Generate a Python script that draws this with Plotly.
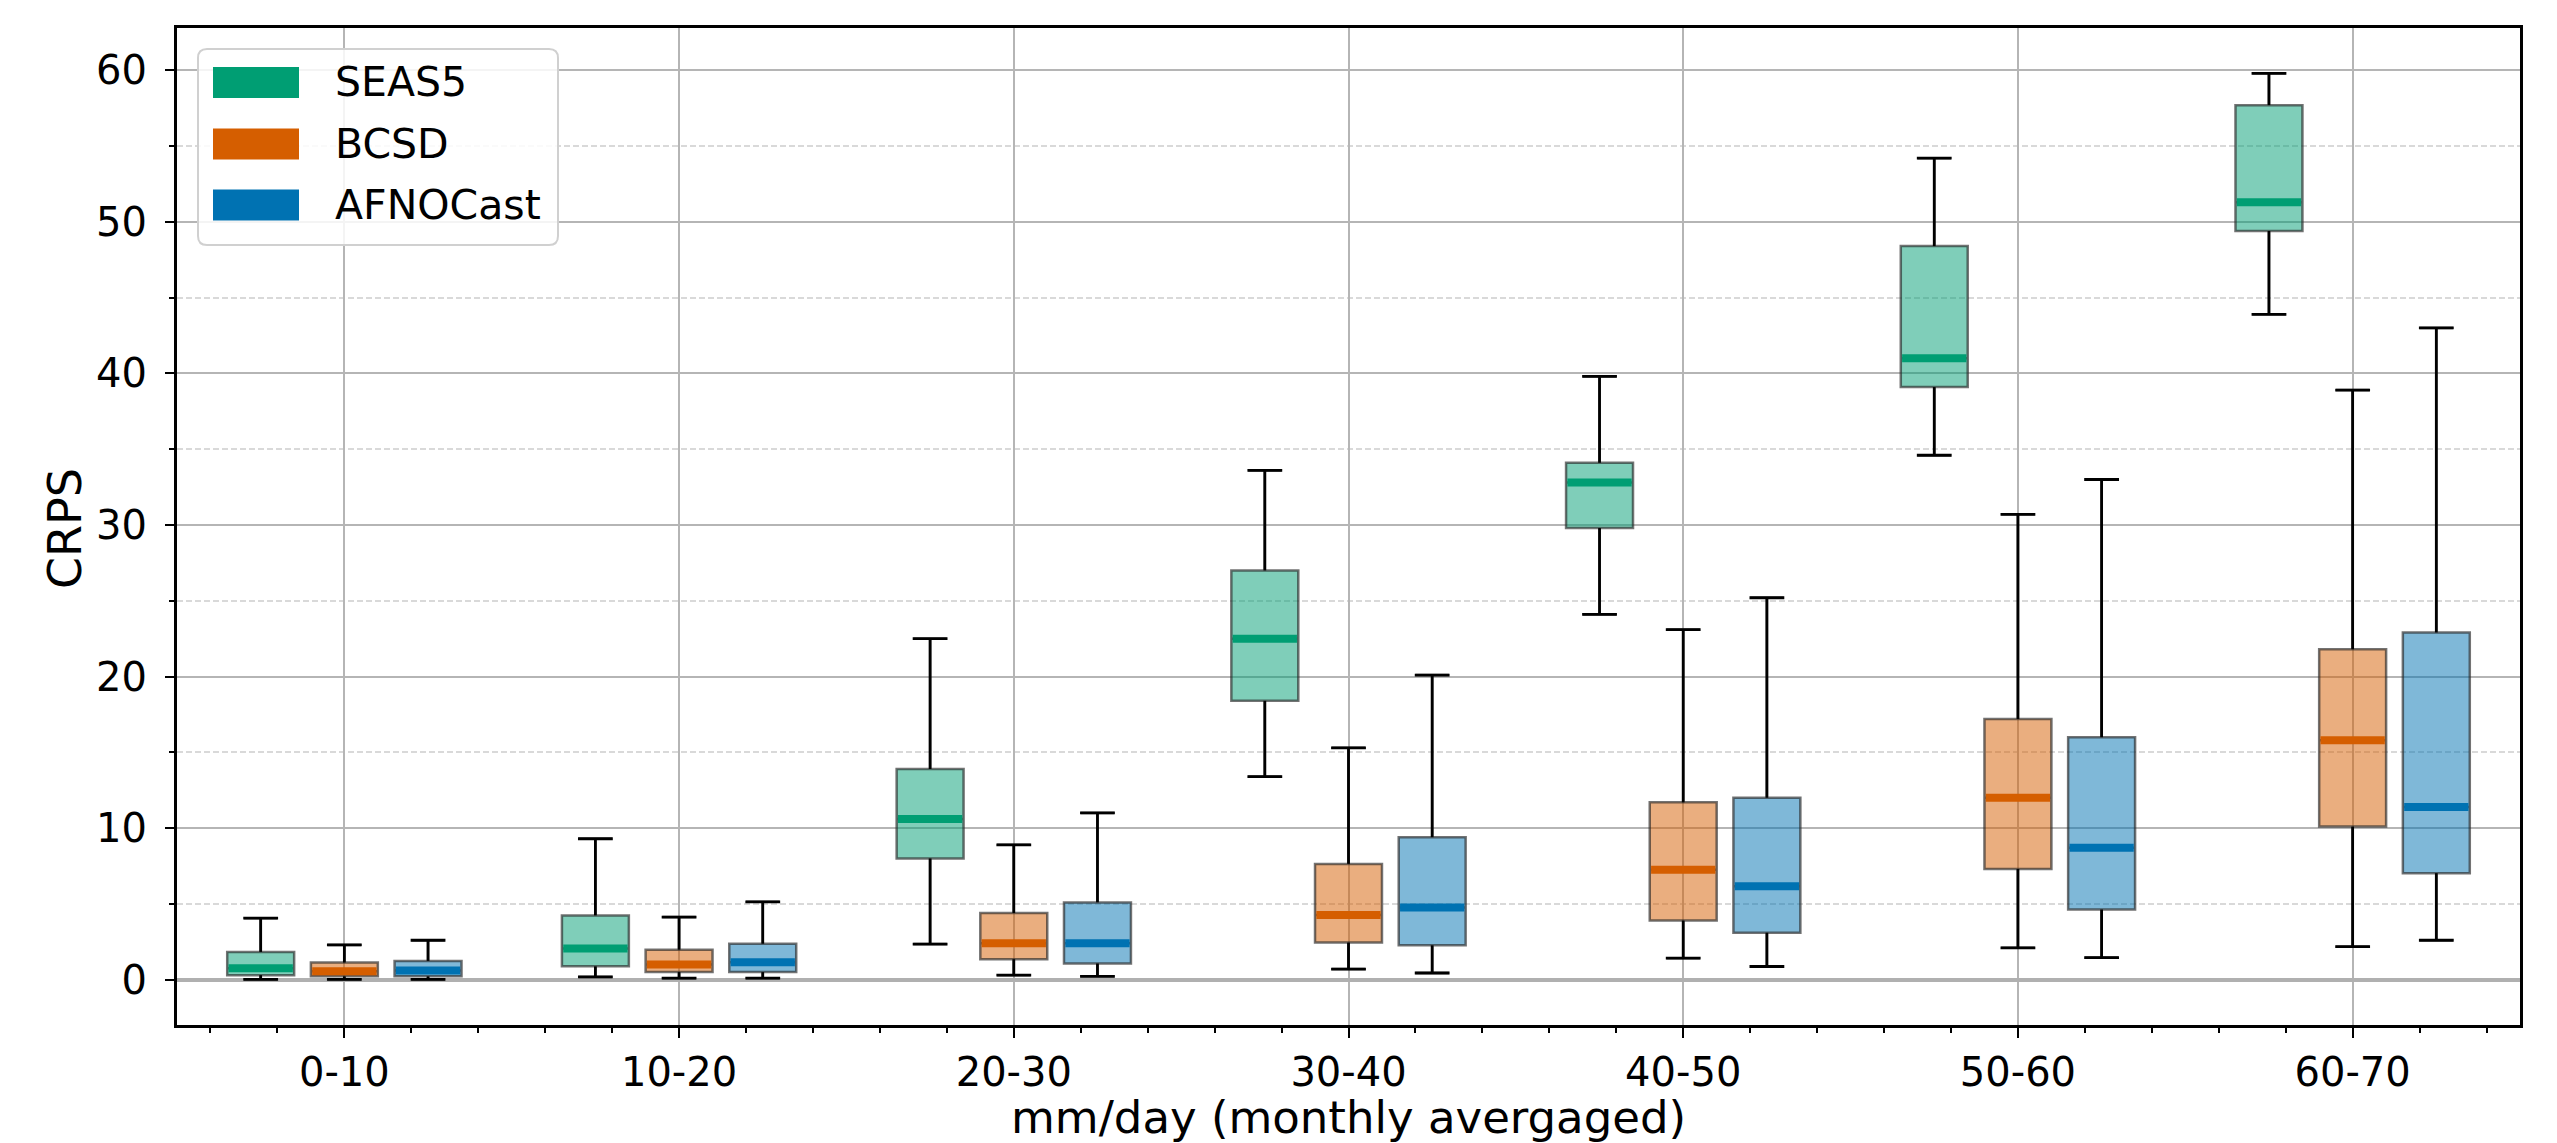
import plotly.graph_objects as go

categories = ["0-10", "10-20", "20-30", "30-40", "40-50", "50-60", "60-70"]
models = ["SEAS5", "BCSD", "AFNOCast"]
model_colors = ["#009E73", "#D55E00", "#0072B2"]
fill_colors = ["rgba(0,158,115,0.5)", "rgba(213,94,0,0.5)", "rgba(0,114,178,0.5)"]
x_title = "mm/day (monthly avergaged)"
y_title = "CRPS"

seas5_low = [0.02, 0.18, 2.35, 13.4, 24.1, 34.6, 43.9]
seas5_q1 = [0.3, 0.88, 8.0, 18.4, 29.8, 39.1, 49.4]
seas5_med = [0.75, 2.05, 10.6, 22.5, 32.8, 41.0, 51.3]
seas5_q3 = [1.83, 4.24, 13.9, 27.0, 34.1, 48.4, 57.7]
seas5_high = [4.06, 9.3, 22.5, 33.6, 39.8, 54.2, 59.8]

bcsd_low = [0.02, 0.1, 0.3, 0.7, 1.42, 2.1, 2.18]
bcsd_q1 = [0.22, 0.5, 1.35, 2.45, 3.9, 7.3, 10.1]
bcsd_med = [0.55, 1.0, 2.4, 4.26, 7.25, 12.0, 15.8]
bcsd_q3 = [1.13, 1.98, 4.4, 7.64, 11.7, 17.2, 21.8]
bcsd_high = [2.29, 4.13, 8.9, 15.3, 23.1, 30.7, 38.9]

afno_low = [0.02, 0.1, 0.22, 0.44, 0.87, 1.46, 2.6]
afno_q1 = [0.22, 0.5, 1.07, 2.27, 3.1, 4.63, 7.03]
afno_med = [0.6, 1.15, 2.4, 4.76, 6.16, 8.7, 11.4]
afno_q3 = [1.24, 2.37, 5.1, 9.4, 12.0, 16.0, 22.9]
afno_high = [2.6, 5.14, 11.0, 20.1, 25.2, 33.0, 43.0]

stats = [
    (seas5_low, seas5_q1, seas5_med, seas5_q3, seas5_high),
    (bcsd_low, bcsd_q1, bcsd_med, bcsd_q3, bcsd_high),
    (afno_low, afno_q1, afno_med, afno_q3, afno_high),
]

offsets = [-0.25, 0.0, 0.25]
box_w = 0.2
cap_w = 0.104

W, H = 2557, 1143
L, R, T, B = 177, 37, 28, 118
FONT = "DejaVu Sans"

fig = go.Figure()

for j, name in enumerate(models):
    low, q1, med, q3, high = stats[j]
    xs = [i + offsets[j] for i in range(len(categories))]
    fig.add_trace(go.Box(
        x=xs, q1=q1, median=med, q3=q3, lowerfence=low, upperfence=high,
        width=box_w, whiskerwidth=0.5, boxpoints=False,
        fillcolor=fill_colors[j],
        line=dict(color="rgba(40,40,40,0.65)", width=2.5),
        name=name, showlegend=False, hoverinfo="skip",
    ))

for j, name in enumerate(models):
    low, q1, med, q3, high = stats[j]
    wx, wy = [], []
    for i in range(len(categories)):
        p = i + offsets[j]
        wx += [p, p, None, p, p, None,
               p - cap_w / 2, p + cap_w / 2, None, p - cap_w / 2, p + cap_w / 2, None]
        wy += [q3[i], high[i], None, q1[i], low[i], None,
               high[i], high[i], None, low[i], low[i], None]
    fig.add_trace(go.Scatter(x=wx, y=wy, mode="lines",
                             line=dict(color="black", width=2.8),
                             showlegend=False, hoverinfo="skip"))
    mx, my = [], []
    for i in range(len(categories)):
        p = i + offsets[j]
        mx += [p - box_w / 2 + 0.004, p + box_w / 2 - 0.004, None]
        my += [med[i], med[i], None]
    fig.add_trace(go.Scatter(x=mx, y=my, mode="lines",
                             line=dict(color=model_colors[j], width=8),
                             showlegend=False, hoverinfo="skip"))

# pixel -> paper helpers (for legend / titles placement)
pw = W - L - R
ph = H - T - B
def px(xp):
    return (xp - L) / pw
def py(yp):
    return (H - B - yp) / ph

lx0, lx1, ly0, ly1, rad = 198, 558, 49, 245, 9
path = (f"M {px(lx0+rad)},{py(ly0)} L {px(lx1-rad)},{py(ly0)} "
        f"Q {px(lx1)},{py(ly0)} {px(lx1)},{py(ly0+rad)} "
        f"L {px(lx1)},{py(ly1-rad)} Q {px(lx1)},{py(ly1)} {px(lx1-rad)},{py(ly1)} "
        f"L {px(lx0+rad)},{py(ly1)} Q {px(lx0)},{py(ly1)} {px(lx0)},{py(ly1-rad)} "
        f"L {px(lx0)},{py(ly0+rad)} Q {px(lx0)},{py(ly0)} {px(lx0+rad)},{py(ly0)} Z")
shapes = [dict(type="path", xref="paper", yref="paper", path=path,
               fillcolor="rgba(255,255,255,0.85)", line=dict(color="#d0d0d0", width=2),
               layer="above")]
annotations = []
row_y = [82.5, 144, 205]
for j, name in enumerate(models):
    yc = row_y[j]
    shapes.append(dict(type="rect", xref="paper", yref="paper",
                       x0=px(213), x1=px(299), y0=py(yc - 15.5), y1=py(yc + 15.5),
                       fillcolor=model_colors[j], line=dict(width=0), layer="above"))
    annotations.append(dict(xref="paper", yref="paper", x=px(333), y=py(yc),
                            xanchor="left", yanchor="middle", text=name, showarrow=False,
                            font=dict(family=FONT, size=41, color="black")))

# axis titles
annotations.append(dict(xref="paper", yref="paper", x=0.5, y=py(1117),
                        xanchor="center", yanchor="middle", text=x_title, showarrow=False,
                        font=dict(family=FONT, size=45, color="black")))
annotations.append(dict(xref="paper", yref="paper", x=px(65), y=py(529),
                        xanchor="center", yanchor="middle", text=y_title, showarrow=False,
                        textangle=-90, font=dict(family=FONT, size=46, color="black")))

fig.update_layout(
    width=W, height=H,
    margin=dict(l=L, r=R, t=T, b=B, pad=0),
    paper_bgcolor="white", plot_bgcolor="white",
    font=dict(family=FONT, size=40, color="black"),
    shapes=shapes, annotations=annotations,
    showlegend=False,
)

fig.update_xaxes(
    range=[-0.5, len(categories) - 0.5],
    tickvals=list(range(len(categories))), ticktext=categories,
    showgrid=True, gridcolor="#b5b5b5", gridwidth=1.5,
    ticks="outside", ticklen=10, tickwidth=2, tickcolor="black",
    minor=dict(dtick=0.2, tick0=0, ticks="outside", ticklen=5, tickwidth=1.5,
               tickcolor="black", showgrid=False),
    showline=True, linecolor="black", linewidth=3, mirror=True,
    zeroline=False, tickfont=dict(size=40),
    ticklabelstandoff=0,
)
fig.update_yaxes(
    range=[-2.99, 62.79], tick0=0, dtick=10,
    showgrid=True, gridcolor="#b5b5b5", gridwidth=2,
    ticks="outside", ticklen=9, tickwidth=2, tickcolor="black",
    minor=dict(dtick=5, tick0=0, ticks="outside", ticklen=5, tickwidth=1.5,
               tickcolor="black", showgrid=True, griddash="6px,3px",
               gridcolor="#d9d9d9", gridwidth=1.5),
    showline=True, linecolor="black", linewidth=3, mirror=True,
    zeroline=True, zerolinecolor="#b0b0b0", zerolinewidth=4,
    tickfont=dict(size=40), ticklabelstandoff=10,
)

fig.write_html("out.html")
